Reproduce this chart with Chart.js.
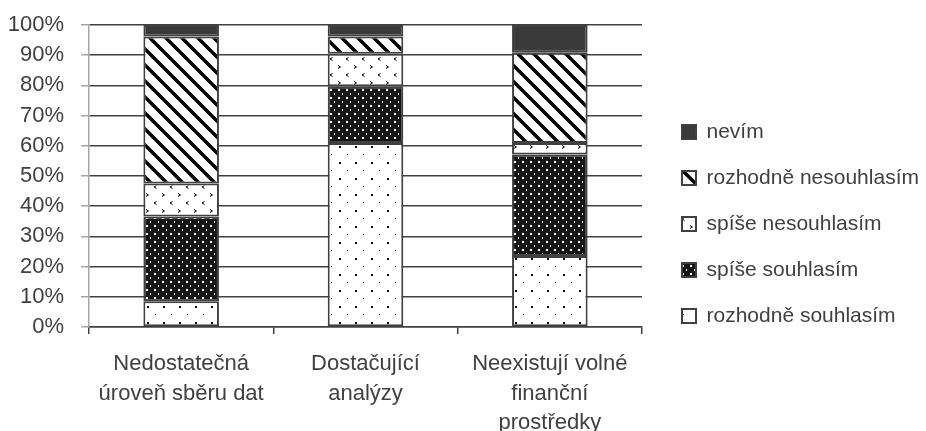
<!DOCTYPE html>
<html>
<head>
<meta charset="utf-8">
<script src="https://cdn.jsdelivr.net/npm/chart.js@4.4.1/dist/chart.umd.min.js"></script>
<style>
  html, body { margin: 0; padding: 0; background: #fff; }
  #wrap { width: 926px; height: 431px; position: relative; }
</style>
</head>
<body>
<div id="wrap"><canvas id="c"></canvas></div>
<script>
const categories = [
  ['Nedostatečná', 'úroveň sběru dat'],
  ['Dostačující', 'analýzy'],
  ['Neexistují volné', 'finanční', 'prostředky'],
];
// percent shares, bottom to top
const rozhodneSouhlasim = [8.5, 60.9, 23.5];
const spiseSouhlasim = [28.1, 18.8, 33.6];
const spiseNesouhlasim = [10.9, 10.8, 3.8];
const rozhodneNesouhlasim = [48.7, 5.7, 29.9];
const nevim = [3.8, 3.8, 9.2];
const yTicks = [0, 10, 20, 30, 40, 50, 60, 70, 80, 90, 100];

const FONT = "'Liberation Sans', Arial, sans-serif";
const TXT = '#404040';

function tile(w, h, draw) {
  const cv = document.createElement('canvas');
  cv.width = w; cv.height = h;
  const g = cv.getContext('2d');
  draw(g);
  return document.getElementById('c').getContext('2d').createPattern(cv, 'repeat');
}

// sparse dots on white
const pDots = tile(16, 16, g => {
  g.fillStyle = '#fff'; g.fillRect(0, 0, 16, 16);
  g.fillStyle = '#000';
  g.fillRect(3, 2, 2, 2);
  g.fillRect(11, 10, 1, 1);
});
// white dots on black
const pDarkDots = tile(8, 8, g => {
  g.fillStyle = '#161616'; g.fillRect(0, 0, 8, 8);
  g.fillStyle = '#fff';
  g.fillRect(2, 1, 2, 2);
  g.fillRect(6, 5, 1, 2);
});
// little chevrons on white
const pChevron = tile(16, 16, g => {
  g.fillStyle = '#fff'; g.fillRect(0, 0, 16, 16);
  g.strokeStyle = '#000'; g.lineWidth = 1;
  g.beginPath();
  g.moveTo(2, 1.5); g.lineTo(4.5, 3); g.lineTo(2, 4.5);
  g.moveTo(12.5, 9.5); g.lineTo(10, 11); g.lineTo(12.5, 12.5);
  g.stroke();
});
// wide diagonal stripes
const pStripes = tile(16, 16, g => {
  g.fillStyle = '#fff'; g.fillRect(0, 0, 16, 16);
  g.strokeStyle = '#000'; g.lineWidth = 3.5;
  g.beginPath();
  g.moveTo(-4, -4); g.lineTo(20, 20);
  g.moveTo(-4, 12); g.lineTo(4, 20);
  g.moveTo(12, -4); g.lineTo(20, 4);
  g.stroke();
});

const ds = (label, data, bg) => ({
  label, data, backgroundColor: bg,
  borderColor: '#404040', borderWidth: 2, borderSkipped: false,
  barPercentage: 0.41, categoryPercentage: 1,
});

// legend box: fixed width so the plot ends where it does in the original
const legendBox = {
  id: 'legendBox',
  beforeUpdate(chart) {
    const lg = chart.legend;
    if (lg && !lg._fixed) {
      const fit = lg.fit.bind(lg);
      lg.fit = function () { fit(); this.width = 284; };
      lg._fixed = true;
    }
  },
  afterLayout(chart) {
    const lg = chart.legend;
    if (!lg) return;
    lg.left = 657;
    lg.top -= 4;
    lg.bottom -= 4;
  },
};

new Chart(document.getElementById('c'), {
  type: 'bar',
  data: {
    labels: categories,
    datasets: [
      ds('rozhodně souhlasím', rozhodneSouhlasim, pDots),
      ds('spíše souhlasím', spiseSouhlasim, pDarkDots),
      ds('spíše nesouhlasím', spiseNesouhlasim, pChevron),
      ds('rozhodně nesouhlasím', rozhodneNesouhlasim, pStripes),
      ds('nevím', nevim, '#3a3a3a'),
    ],
  },
  plugins: [legendBox],
  options: {
    responsive: true,
    maintainAspectRatio: false,
    animation: false,
    layout: { padding: { top: 25, left: 0, right: 0, bottom: 0 } },
    plugins: {
      tooltip: { enabled: false },
      legend: {
        position: 'right',
        reverse: true,
        labels: {
          color: TXT,
          font: { family: FONT, size: 21 },
          boxWidth: 14, boxHeight: 14, padding: 25,
        },
      },
    },
    scales: {
      x: {
        stacked: true,
        grid: { display: true, drawOnChartArea: false, offset: true, color: '#404040', tickLength: 7, lineWidth: 1.5 },
        border: { color: '#404040', width: 1.5 },
        ticks: { color: TXT, font: { family: FONT, size: 22, lineHeight: 1.35 }, padding: 15, maxRotation: 0 },
        afterFit: s => { s.height = 104; },
      },
      y: {
        stacked: true,
        min: 0, max: 100,
        afterBuildTicks: s => { s.ticks = yTicks.map(v => ({ value: v })); },
        grid: { color: '#404040', lineWidth: 1.5, tickColor: '#a6a6a6', tickLength: 8 },
        border: { color: '#a6a6a6', width: 1.5 },
        ticks: { color: TXT, font: { family: FONT, size: 22 }, padding: 17, callback: v => v + '%' },
        afterFit: s => { s.width = 89; s.paddingTop = 0; s.paddingBottom = 0; },
      },
    },
  },
});
</script>
</body>
</html>
